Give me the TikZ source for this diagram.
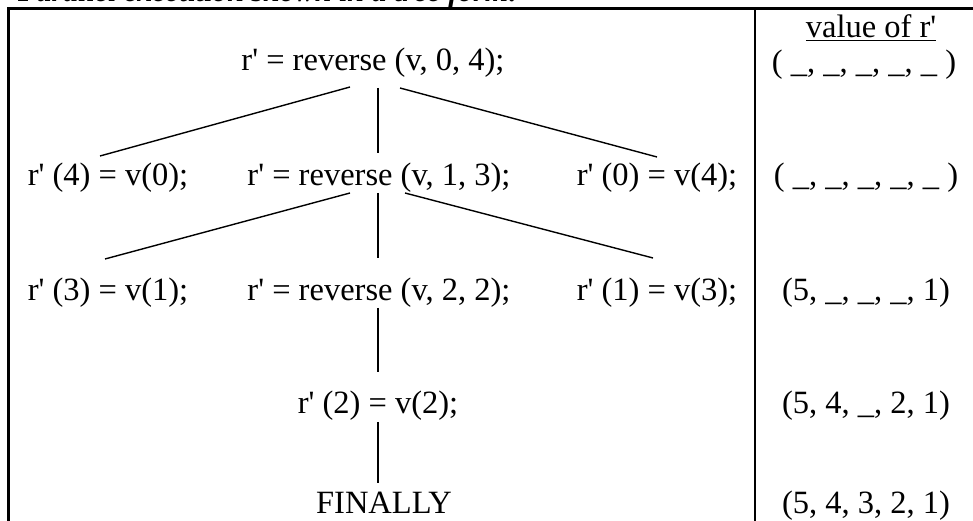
\documentclass[tikz,border=0pt]{standalone}
\usepackage{fontspec}
\setmainfont{Liberation Serif}
\usetikzlibrary{calc}
\newcommand\ap{\textquotesingle}
\begin{document}
\begin{tikzpicture}[x=1pt,y=1pt,
  txt/.style={inner sep=0pt, anchor=base, font=\fontsize{32.5}{38}\selectfont},
  ttl/.style={inner sep=0pt, anchor=base west, font=\fontsize{30}{36}\selectfont\bfseries\itshape},
  edge/.style={line width=1.4pt},
  frame/.style={line width=3pt}]
\useasboundingbox (0,0) rectangle (973,521);
\clip (0,0) rectangle (973,521);
% title (cut at top)
\node[ttl] (title) at (18,519) {Parallel execution shown in a tree form:};
% frame
\draw[frame] (973,512) -- (8,512) -- (8,-2);
\draw[line width=2.4pt] (755,512) -- (755,-2);
% tree
\node[txt] (r1) at (373,450) {r\ap{} = reverse (v, 0, 4);};
\node[txt] (a2) at (108,335) {r\ap{} (4) = v(0);};
\node[txt] (r2) at (379,335) {r\ap{} = reverse (v, 1, 3);};
\node[txt] (c2) at (657,335) {r\ap{} (0) = v(4);};
\node[txt] (a3) at (108,220) {r\ap{} (3) = v(1);};
\node[txt] (r3) at (379,220) {r\ap{} = reverse (v, 2, 2);};
\node[txt] (c3) at (657,220) {r\ap{} (1) = v(3);};
\node[txt] (d4) at (378,107) {r\ap{} (2) = v(2);};
\node[txt] (f5) at (384,7) {FINALLY};
% right column
\node[txt] (hd) at (871,483) {\underline{value of r\ap}};
\node[txt] (v1) at (864,448) {( \_, \_, \_, \_, \_ )};
\node[txt] (v2) at (866,335) {( \_, \_, \_, \_, \_ )};
\node[txt] (v3) at (866,220) {(5, \_, \_, \_, 1)};
\node[txt] (v4) at (866,107) {(5, 4, \_, 2, 1)};
\node[txt] (v5) at (866,7) {(5, 4, 3, 2, 1)};
% connectors
\draw[edge] ($(r1.base)+(-23,-16)$) -- ($(a2.base)+(-8,30)$);
\draw[edge] ($(r1.base)+(5,-17)$) -- ($(r2.base)+(-1,33)$);
\draw[edge] ($(r1.base)+(27,-17)$) -- ($(c2.base)+(0,29)$);
\draw[edge] ($(r2.base)+(-29,-7)$) -- ($(a3.base)+(-3,42)$);
\draw[edge] ($(r2.base)+(-1,-7)$) -- ($(r3.base)+(-1,43)$);
\draw[edge] ($(r2.base)+(26,-7)$) -- ($(c3.base)+(-4,43)$);
\draw[edge] ($(r3.base)+(-1,-7)$) -- ($(d4.base)+(0,42)$);
\draw[edge] ($(d4.base)+(0,-8)$) -- ($(f5.base)+(-6,31)$);
\end{tikzpicture}
\end{document}
